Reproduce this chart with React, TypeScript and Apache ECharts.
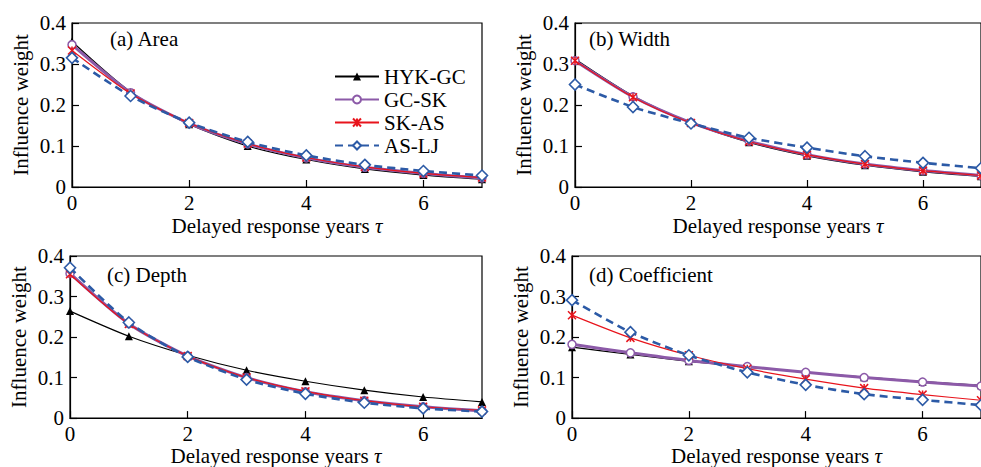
import React, { useEffect, useRef } from "react";
import * as echarts from "echarts";

const TAU = [0, 1, 2, 3, 4, 5, 6, 7];
const SERIES_NAMES = ["HYK-GC", "GC-SK", "SK-AS", "AS-LJ"];
const PANEL_TITLES = ["(a) Area", "(b) Width", "(c) Depth", "(d) Coefficient"];
const Y_TICKS = [0, 0.1, 0.2, 0.3, 0.4];

// (a) Area
const AREA_HYK_GC = [0.355, 0.232, 0.153, 0.1, 0.067, 0.044, 0.029, 0.019];
const AREA_GC_SK = [0.347, 0.23, 0.155, 0.105, 0.071, 0.048, 0.033, 0.022];
const AREA_SK_AS = [0.333, 0.228, 0.156, 0.106, 0.072, 0.049, 0.033, 0.023];
const AREA_AS_LJ = [0.315, 0.222, 0.157, 0.11, 0.077, 0.054, 0.039, 0.028];
// (b) Width
const WIDTH_HYK_GC = [0.312, 0.222, 0.157, 0.109, 0.076, 0.053, 0.037, 0.026];
const WIDTH_GC_SK = [0.308, 0.22, 0.157, 0.112, 0.079, 0.056, 0.04, 0.028];
const WIDTH_SK_AS = [0.308, 0.219, 0.156, 0.111, 0.079, 0.056, 0.04, 0.028];
const WIDTH_AS_LJ = [0.25, 0.195, 0.155, 0.12, 0.096, 0.075, 0.059, 0.046];
// (c) Depth
const DEPTH_HYK_GC = [0.264, 0.202, 0.155, 0.118, 0.091, 0.069, 0.052, 0.04];
const DEPTH_GC_SK = [0.357, 0.233, 0.153, 0.1, 0.065, 0.043, 0.028, 0.018];
const DEPTH_SK_AS = [0.355, 0.232, 0.153, 0.1, 0.066, 0.043, 0.028, 0.019];
const DEPTH_AS_LJ = [0.371, 0.236, 0.151, 0.095, 0.06, 0.038, 0.024, 0.016];
// (d) Coefficient
const COEF_HYK_GC = [0.175, 0.157, 0.14, 0.126, 0.113, 0.101, 0.09, 0.081];
const COEF_GC_SK = [0.182, 0.161, 0.142, 0.127, 0.113, 0.1, 0.089, 0.079];
const COEF_SK_AS = [0.254, 0.198, 0.155, 0.122, 0.096, 0.074, 0.058, 0.044];
const COEF_AS_LJ = [0.291, 0.212, 0.155, 0.113, 0.082, 0.059, 0.045, 0.032];

const PANELS = [
  [AREA_HYK_GC, AREA_GC_SK, AREA_SK_AS, AREA_AS_LJ],
  [WIDTH_HYK_GC, WIDTH_GC_SK, WIDTH_SK_AS, WIDTH_AS_LJ],
  [DEPTH_HYK_GC, DEPTH_GC_SK, DEPTH_SK_AS, DEPTH_AS_LJ],
  [COEF_HYK_GC, COEF_GC_SK, COEF_SK_AS, COEF_AS_LJ],
];

const FONT = '"Liberation Serif","Times New Roman",serif';
const FS = 21;

const GRIDS = [
  { left: 72, top: 23, width: 410, height: 164 },
  { left: 575, top: 23, width: 409, height: 164 },
  { left: 70, top: 256, width: 412, height: 163 },
  { left: 572, top: 256, width: 412, height: 163 },
];
const TITLE_POS = [
  { x: 110, y: 39 },
  { x: 589, y: 39 },
  { x: 107, y: 275 },
  { x: 589, y: 275 },
];

const BLACK = "#000000";
const PURPLE = "#8c5aa8";
const RED = "#e8141c";
const BLUE = "#2c5aa6";

const STYLES = [
  {
    symbol: "triangle",
    symbolSize: 8,
    lineStyle: { color: BLACK, width: 1.2 },
    itemStyle: { color: BLACK, borderColor: BLACK, borderWidth: 0 },
  },
  {
    symbol: "circle",
    symbolSize: 8,
    lineStyle: { color: PURPLE, width: 3 },
    itemStyle: { color: "#ffffff", borderColor: PURPLE, borderWidth: 1.5 },
  },
  {
    symbol: "path://M0,0L10,10M10,0L0,10M5,0L5,10",
    symbolSize: 8,
    lineStyle: { color: RED, width: 1.2 },
    itemStyle: { color: RED, borderColor: RED, borderWidth: 1.5 },
  },
  {
    symbol: "diamond",
    symbolSize: 11,
    lineStyle: { color: BLUE, width: 2.6, type: [8, 5] },
    itemStyle: { color: "#ffffff", borderColor: BLUE, borderWidth: 1.6 },
  },
];

export default function App() {
  const ref = useRef<HTMLDivElement>(null);
  useEffect(() => {
    if (!ref.current) return;
    const chart = echarts.init(ref.current, null, { renderer: "svg" });
    const xAxes = GRIDS.map((_, i) => ({
      type: "value",
      gridIndex: i,
      min: 0,
      max: 7,
      interval: 2,
      name: "Delayed response years {i|τ}",
      nameLocation: "middle",
      nameGap: i < 2 ? 28 : 25,
      nameTextStyle: {
        fontFamily: FONT,
        fontSize: FS,
        color: BLACK,
        rich: { i: { fontFamily: FONT, fontSize: FS, fontStyle: "italic", color: BLACK } },
      },
      axisLine: { show: true, lineStyle: { color: BLACK, width: 1.2 } },
      axisTick: { show: true, inside: true, length: 7, lineStyle: { color: BLACK, width: 1.2 } },
      axisLabel: {
        fontFamily: FONT,
        fontSize: FS,
        color: BLACK,
        margin: 5,
        showMaxLabel: false,
      },
      splitLine: { show: false },
    }));
    const yAxes = GRIDS.map((_, i) => ({
      type: "value",
      gridIndex: i,
      min: Y_TICKS[0],
      max: Y_TICKS[Y_TICKS.length - 1],
      interval: 0.1,
      name: "Influence weight",
      nameLocation: "middle",
      nameGap: 41,
      nameTextStyle: { fontFamily: FONT, fontSize: FS, color: BLACK },
      axisLine: { show: true, lineStyle: { color: BLACK, width: 1.2 } },
      axisTick: { show: true, inside: true, length: 7, lineStyle: { color: BLACK, width: 1.2 } },
      axisLabel: { fontFamily: FONT, fontSize: FS, color: BLACK, margin: 6 },
      splitLine: { show: false },
    }));
    const series: any[] = [];
    PANELS.forEach((panel, pi) => {
      panel.forEach((vals, si) => {
        series.push({
          type: "line",
          name: SERIES_NAMES[si],
          xAxisIndex: pi,
          yAxisIndex: pi,
          data: TAU.map((t, k) => [t, vals[k]]),
          smooth: 0.25,
          showAllSymbol: true,
          z: 2 + si,
          ...STYLES[si],
        });
      });
    });
    chart.setOption({
      animation: false,
      backgroundColor: "#ffffff",
      grid: GRIDS.map((g) => ({
        ...g,
        show: true,
        borderColor: BLACK,
        borderWidth: 1.2,
        backgroundColor: "transparent",
      })),
      xAxis: xAxes,
      yAxis: yAxes,
      legend: {
        orient: "vertical",
        left: 329,
        top: 61,
        itemWidth: 44,
        itemHeight: 10,
        itemGap: 2,
        data: SERIES_NAMES,
        textStyle: { fontFamily: FONT, fontSize: FS, color: BLACK },
      },
      graphic: PANEL_TITLES.map((t, i) => ({
        type: "text",
        left: TITLE_POS[i].x,
        top: TITLE_POS[i].y - 11,
        style: { text: t, fontFamily: FONT, fontSize: FS, fill: BLACK },
      })),
      series,
    });
    return () => chart.dispose();
  }, []);
  return (
    <div
      ref={ref}
      style={{ position: "fixed", left: 0, top: 0, width: 981, height: 467, background: "#fff" }}
    />
  );
}
